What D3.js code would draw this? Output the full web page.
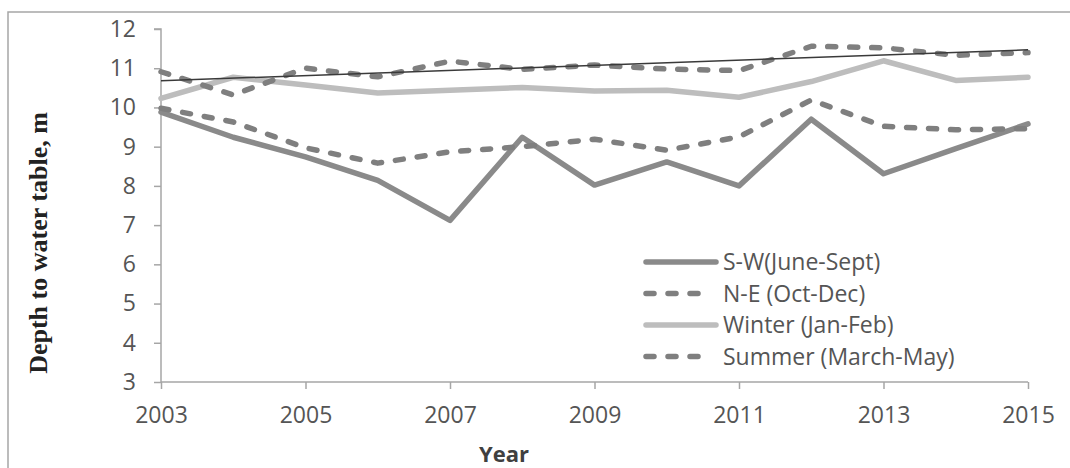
<!DOCTYPE html>
<html>
<head>
<meta charset="utf-8">
<script src="https://cdn.jsdelivr.net/npm/d3@7"></script>
<style>
  body { margin: 0; background: #fff; }
  svg { display: block; }
</style>
</head>
<body>
<div id="chart"></div>
<script>
// years on the x axis
var years = [2003, 2004, 2005, 2006, 2007, 2008, 2009, 2010, 2011, 2012, 2013, 2014, 2015];
// depth to water table (m)
var swMonsoon = [9.88, 9.24, 8.74, 8.14, 7.12, 9.24, 8.02, 8.61, 8.0, 9.70, 8.31, 8.95, 9.58];
var neMonsoon = [9.98, 9.63, 8.97, 8.58, 8.87, 9.0, 9.19, 8.91, 9.25, 10.19, 9.52, 9.43, 9.46];
var winter = [10.23, 10.77, 10.57, 10.37, 10.44, 10.51, 10.42, 10.44, 10.26, 10.66, 11.19, 10.69, 10.77];
var summer = [10.91, 10.32, 11.0, 10.78, 11.18, 10.97, 11.08, 10.98, 10.94, 11.56, 11.52, 11.33, 11.40];
var seriesNames = ["S-W(June-Sept)", "N-E (Oct-Dec)", "Winter (Jan-Feb)", "Summer (March-May)"];
var yTicks = [3, 4, 5, 6, 7, 8, 9, 10, 11, 12];
var xTicks = [2003, 2005, 2007, 2009, 2011, 2013, 2015];

var W = 1070, H = 468;
var svg = d3.select("#chart").append("svg").attr("width", W).attr("height", H);

var x = d3.scaleLinear().domain([2003, 2015]).range([161, 1028]);
var y = d3.scaleLinear().domain([3, 12]).range([382, 29]);

// outer frame (top + left only visible)
svg.append("path").attr("d", "M8,468V12H1070").attr("fill", "none")
  .attr("stroke", "#a6a6a6").attr("stroke-width", 1.5);

var axisCol = "#a6a6a6", textCol = "#555";
var tickFont = "'Open Sans', sans-serif";

// y axis
var yAxis = svg.append("g").attr("transform", "translate(161,0)")
  .call(d3.axisLeft(y).tickValues(yTicks).tickSize(7).tickPadding(18).tickFormat(d3.format("d")));
// x axis
var xAxis = svg.append("g").attr("transform", "translate(0,382)")
  .call(d3.axisBottom(x).tickValues(xTicks).tickSize(7).tickPadding(18).tickFormat(d3.format("d")));

[yAxis, xAxis].forEach(function(g){
  g.select(".domain").attr("stroke", axisCol).attr("stroke-width", 1.5);
  g.selectAll(".tick line").attr("stroke", axisCol).attr("stroke-width", 1.5);
  g.selectAll(".tick text").attr("fill", textCol).style("font-family", tickFont).style("font-size", "23px");
});
// axisLeft/Bottom draw outer ticks via domain path, flatten it to a plain line
yAxis.select(".domain").attr("d", "M0," + y(3) + "V" + y(12) + "H-7");
xAxis.select(".domain").attr("d", "M" + x(2003) + ",0H" + x(2015));

var styles = [
  {data: swMonsoon, color: "#8a8a8a", dash: null},
  {data: neMonsoon, color: "#7f7f7f", dash: "8,14"},
  {data: winter, color: "#bdbdbd", dash: null},
  {data: summer, color: "#7f7f7f", dash: "8,14"}
];

var line = d3.line().x(function(d, i){ return x(years[i]); }).y(function(d){ return y(d); });

styles.forEach(function(s){
  svg.append("path").datum(s.data).attr("d", line)
    .attr("fill", "none").attr("stroke", s.color).attr("stroke-width", 5.5)
    .attr("stroke-linejoin", "round").attr("stroke-linecap", "round")
    .attr("stroke-dasharray", s.dash);
});

// linear trend of the summer series (least squares, as Excel does)
var mx = d3.mean(years), my = d3.mean(summer);
var slope = d3.sum(years, function(v, i){ return (v - mx) * (summer[i] - my); }) /
            d3.sum(years, function(v){ return (v - mx) * (v - mx); });
var trend = [2003, 2015].map(function(v){ return [v, my + slope * (v - mx)]; });
svg.append("path").datum(trend)
  .attr("d", d3.line().x(function(d){ return x(d[0]); }).y(function(d){ return y(d[1]); }))
  .attr("fill", "none").attr("stroke", "#3a3a3a").attr("stroke-width", 1.5);

// legend
var leg = svg.append("g").attr("transform", "translate(646,262)");
styles.forEach(function(s, i){
  var row = leg.append("g").attr("transform", "translate(0," + (i * 31.5) + ")");
  row.append("line").attr("x1", 0).attr("x2", s.dash ? 62 : 70).attr("y1", 0).attr("y2", 0)
    .attr("stroke", s.color).attr("stroke-width", 5.5).attr("stroke-linecap", "round")
    .attr("stroke-dasharray", s.dash);
  row.append("text").attr("x", 77).attr("y", 8).text(seriesNames[i])
    .attr("fill", textCol).style("font-family", tickFont).style("font-size", "23px");
});

// axis titles
svg.append("text").attr("x", 504).attr("y", 462).attr("text-anchor", "middle").text("Year")
  .attr("fill", "#404040").style("font-family", tickFont).style("font-weight", "bold").style("font-size", "22px");
svg.append("text").attr("transform", "translate(47,243) rotate(-90)").attr("text-anchor", "middle")
  .text("Depth to water table, m").attr("fill", "#222")
  .style("font-family", "'Liberation Serif', serif").style("font-weight", "bold").style("font-size", "26px");
</script>
</body>
</html>
